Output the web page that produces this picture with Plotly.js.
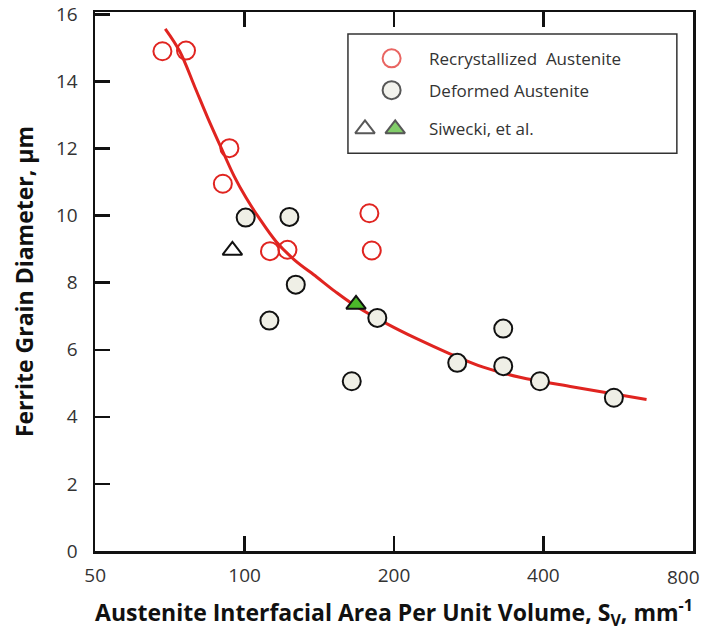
<!DOCTYPE html>
<html>
<head>
<meta charset="utf-8">
<script src="https://cdn.plot.ly/plotly-3.0.1.min.js"></script>
<style>
  html, body { margin: 0; padding: 0; background: #fff; }
  #chart { width: 705px; height: 632px; }
</style>
</head>
<body>
<div id="chart"></div>
<script>
// Austenite interfacial area Sv (mm^-1) vs ferrite grain diameter (µm)
const recrystSv = [68.3, 76.2, 93.2, 90.4, 112.5, 122.0, 178.4, 180.4];
const recrystD  = [14.9, 14.92, 12.01, 10.95, 8.94, 8.98, 10.07, 8.96];

const deformedSv = [100.5, 123.1, 126.8, 112.2, 164.4, 185.1, 268.2, 332.0, 332.0, 393.6, 554.7];
const deformedD  = [9.94, 9.96, 7.94, 6.87, 5.06, 6.95, 5.61, 6.63, 5.51, 5.06, 4.57];

// Siwecki et al.: open and filled triangles
const siweckiOpenSv = [94.5];
const siweckiOpenD  = [8.96];
const siweckiFillSv = [167.7];
const siweckiFillD  = [7.35];

// Trend curve through the data
const fitSv = [69.2, 74.0, 79.3, 84.2, 89.7, 95.3, 100.7, 106.6, 115.7, 125.8, 139.7, 152.1, 165.6, 193.3, 222.2, 259.3, 302.6, 358.7, 459.3, 645.5];
const fitD  = [15.57, 14.90, 13.85, 12.93, 12.02, 11.17, 10.53, 9.96, 9.23, 8.69, 8.17, 7.74, 7.35, 6.78, 6.33, 5.88, 5.48, 5.18, 4.89, 4.52];

const xTicks = [50, 100, 200, 400, 800];
const yTicks = [0, 2, 4, 6, 8, 10, 12, 14, 16];

const legendLabels = ['Recrystallized  Austenite', 'Deformed Austenite', 'Siwecki, et al.'];

const RED = '#e02420';
const GREEN = '#4cb82a';
const FILL = '#efefe6';
const FONT = '"Open Sans", Lato, sans-serif';
const TICKFONT = { family: FONT, size: 19, color: '#333' };

const traces = [
  {
    x: fitSv, y: fitD, type: 'scatter', mode: 'lines',
    line: { color: RED, width: 3, shape: 'spline', smoothing: 1 },
    hoverinfo: 'skip', showlegend: false
  },
  {
    x: siweckiOpenSv, y: siweckiOpenD, type: 'scatter', mode: 'markers',
    marker: { symbol: 'triangle-up-open', size: 17, color: '#111', line: { width: 2, color: '#111' } },
    showlegend: false
  },
  {
    x: deformedSv, y: deformedD, type: 'scatter', mode: 'markers',
    marker: { symbol: 'circle', size: 18, color: FILL, line: { width: 2, color: '#111' } },
    showlegend: false
  },
  {
    x: recrystSv, y: recrystD, type: 'scatter', mode: 'markers',
    marker: { symbol: 'circle-open', size: 18, color: RED, line: { width: 2, color: RED } },
    showlegend: false
  },
  {
    x: siweckiFillSv, y: siweckiFillD, type: 'scatter', mode: 'markers',
    marker: { symbol: 'triangle-up', size: 17, color: GREEN, line: { width: 2, color: '#111' } },
    showlegend: false
  },
  // legend key symbols, placed on an overlaid unit axis
  {
    x: [0.496, 0.496, 0.4515, 0.502], y: [0.914, 0.855, 0.783, 0.783],
    xaxis: 'x2', yaxis: 'y2', type: 'scatter', mode: 'markers',
    marker: {
      symbol: ['circle-open', 'circle', 'triangle-up-open', 'triangle-up'],
      size: [18, 18, 17, 17],
      color: [RED, FILL, '#111', GREEN],
      line: { width: 2, color: [RED, '#111', '#111', '#111'] }
    },
    hoverinfo: 'skip', showlegend: false
  }
];

const legendRows = [0.914, 0.855, 0.783];
const annotations = legendLabels.map((t, i) => ({
  xref: 'paper', yref: 'paper', x: 0.555, y: legendRows[i],
  xanchor: 'left', yanchor: 'middle', text: t, showarrow: false,
  font: { family: FONT, size: 17, color: '#333' }
}));

// the last x tick label sits at the right edge, so it is pulled inside the page
const lastX = xTicks[xTicks.length - 1];
annotations.push({
  xref: 'paper', yref: 'paper', x: 1.015, y: 0,
  xanchor: 'right', yanchor: 'top', yshift: -11,
  text: String(lastX), showarrow: false, font: TICKFONT
});

const layout = {
  width: 705, height: 632,
  margin: { l: 95, r: 12, t: 12, b: 81 },
  paper_bgcolor: '#fff', plot_bgcolor: '#fff',
  showlegend: false,
  font: { family: FONT, color: '#333' },
  xaxis: {
    type: 'log',
    range: [Math.log10(50) - 0.0004, Math.log10(800) + 0.0004],
    tickvals: xTicks, ticktext: xTicks.map(v => (v === lastX ? '' : String(v))),
    ticks: 'inside', ticklen: 15, tickwidth: 2.5, tickcolor: '#111',
    showline: true, linewidth: 2.5, linecolor: '#111', mirror: 'ticks',
    showgrid: false, zeroline: false,
    ticklabelstandoff: 6,
    tickfont: TICKFONT,
    title: {
      text: 'Austenite Interfacial Area Per Unit Volume, S<sub>V</sub>, mm<sup>-1</sup>',
      font: { family: FONT, size: 23, color: '#111', weight: 'bold' },
      standoff: 18
    }
  },
  yaxis: {
    range: [0, 16.07],
    tickvals: yTicks,
    ticks: 'inside', ticklen: 15, tickwidth: 2.5, tickcolor: '#111',
    showline: true, linewidth: 2.5, linecolor: '#111', mirror: true,
    showgrid: false, zeroline: false,
    ticklabelstandoff: 11,
    tickfont: TICKFONT,
    title: {
      text: 'Ferrite Grain Diameter, µm',
      font: { family: FONT, size: 23, color: '#111', weight: 'bold' },
      standoff: 16
    }
  },
  xaxis2: { overlaying: 'x', range: [0, 1], visible: false, fixedrange: true },
  yaxis2: { overlaying: 'y', range: [0, 1], visible: false, fixedrange: true },
  shapes: [
    {
      type: 'rect', xref: 'paper', yref: 'paper',
      x0: 0.423, x1: 0.973, y0: 0.738, y1: 0.959,
      line: { color: '#333', width: 1.5 }, fillcolor: 'rgba(0,0,0,0)', layer: 'below'
    }
  ],
  annotations: annotations
};

Plotly.newPlot('chart', traces, layout, { displayModeBar: false, staticPlot: true });
</script>
</body>
</html>
